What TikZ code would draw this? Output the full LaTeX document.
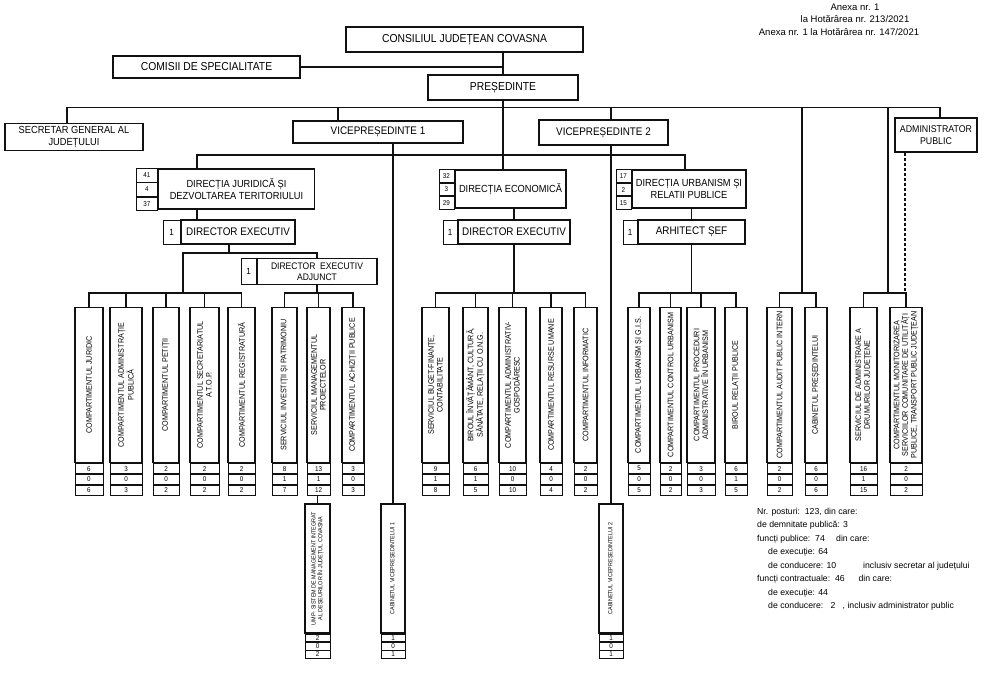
\documentclass[tikz,border=0pt]{standalone}
\usepackage{fontspec}
\setmainfont{Liberation Sans}[FakeStretch=0.9]
\newfontfamily\notefont{Liberation Sans}
\usepackage{tikz}
\usetikzlibrary{positioning,calc}
\definecolor{cInk}{HTML}{111111}
\tikzset{
  unit/.style    = {draw=cInk, line width=1.1pt, align=center, inner sep=1pt,
                    font=\fontsize{11}{12.5}\selectfont},
  topunit/.style = {unit, font=\fontsize{11.5}{13.5}\selectfont},
  dirunit/.style = {unit, line width=1.3pt, font=\fontsize{10.3}{12}\selectfont},
  numcell/.style = {draw=cInk, line width=0.8pt, inner sep=0pt, minimum height=10,
                    font=\fontsize{7}{8}\selectfont},
  dircell/.style = {numcell, minimum height=38/3},
  headcell/.style = {numcell, font=\fontsize{9}{10}\selectfont},
  vunit/.style   = {draw=cInk, line width=1.4pt, inner sep=0pt, minimum height=155},
  vlabel/.style  = {rotate=90, align=center, inner sep=0pt,
                    font=\fontsize{8}{8.6}\selectfont},
  link/.style    = {draw=cInk, line width=1.1pt},
  vplink/.style  = {draw=cInk, line width=2.4pt},
  dashlink/.style = {link, dash pattern=on 3pt off 2pt},
  note/.style    = {anchor=base west, inner sep=0pt,
                    font=\notefont\fontsize{8.7}{10}\selectfont},
  annex/.style   = {inner sep=0pt, font=\notefont\fontsize{9.5}{11}\selectfont},
}

\begin{document}
\begin{tikzpicture}[x=1pt, y=-1pt]
  \useasboundingbox (0,0) rectangle (1000,673);

  % header
  \node[annex] (anx1) at (855,7) {Anexa nr. 1};
  \node[annex] (anx2) at (855,19.5) {la Hotărârea nr. 213/2021};
  \node[annex] (anx3) at (839,32) {Anexa nr. 1 la Hotărârea nr. 147/2021};

  \node[topunit, minimum width=237, minimum height=25] (cj) at (464.5,39.5)
    {CONSILIUL JUDEȚEAN COVASNA};
  \node[topunit, minimum width=187, minimum height=22] (com) at (206.5,67)
    {COMISII DE SPECIALITATE};
  \node[topunit, minimum width=150, minimum height=25] (pres) at (503,87.5)
    {PREȘEDINTE};

  % second level
  \node[unit, font=\fontsize{10.3}{11.5}\selectfont, minimum width=138, minimum height=27]
    (sec) at (74,137) {SECRETAR GENERAL AL\\ JUDEȚULUI};
  \node[unit, minimum width=170, minimum height=22] (vp1) at (378,132)
    {VICEPREȘEDINTE 1};
  \node[unit, line width=2pt, minimum width=129, minimum height=25] (vp2) at (603.5,132.5)
    {VICEPREȘEDINTE 2};
  \node[unit, font=\fontsize{9.8}{11.5}\selectfont, minimum width=82, minimum height=34]
    (adm) at (936,135) {ADMINISTRATOR\\ PUBLIC};

  % directions
  \node[dirunit, minimum width=156, minimum height=40] (dj) at (236.5,189)
    {DIRECȚIA JURIDICĂ ȘI\\ DEZVOLTAREA TERITORIULUI};
  \node[dircell, minimum width=21, minimum height=40/3, anchor=north east] (dj-a) at (dj.north west) {41};
  \node[dircell, minimum width=21, minimum height=40/3, below=0pt of dj-a] (dj-b) {4};
  \node[dircell, minimum width=21, minimum height=40/3, below=0pt of dj-b] (dj-c) {37};

  \node[dirunit, minimum width=111, minimum height=38] (de) at (510.5,189)
    {DIRECȚIA ECONOMICĂ};
  \node[dircell, minimum width=15, anchor=north east] (de-a) at (de.north west) {32};
  \node[dircell, minimum width=15, below=0pt of de-a] (de-b) {3};
  \node[dircell, minimum width=15, below=0pt of de-b] (de-c) {29};

  \node[dirunit, minimum width=114, minimum height=38] (du) at (689,189)
    {DIRECȚIA URBANISM ȘI\\ RELATII PUBLICE};
  \node[dircell, minimum width=15, anchor=north east] (du-a) at (du.north west) {17};
  \node[dircell, minimum width=15, below=0pt of du-a] (du-b) {2};
  \node[dircell, minimum width=15, below=0pt of du-b] (du-c) {15};

  % heads
  \node[unit, minimum width=114, minimum height=24] (de1) at (238,232) {DIRECTOR EXECUTIV};
  \node[headcell, minimum width=17, minimum height=24, anchor=east] (de1-n) at (de1.west) {1};
  \node[unit, font=\fontsize{9.5}{11}\selectfont, minimum width=120, minimum height=26]
    (dea) at (317,271.5) {DIRECTOR\ \ EXECUTIV\\ ADJUNCT};
  \node[headcell, minimum width=15, minimum height=26, anchor=east] (dea-n) at (dea.west) {1};
  \node[unit, minimum width=112, minimum height=24] (de2) at (514,232) {DIRECTOR EXECUTIV};
  \node[headcell, minimum width=14, minimum height=24, anchor=east] (de2-n) at (de2.west) {1};
  \node[unit, minimum width=107, minimum height=24] (ars) at (691.5,232) {ARHITECT ȘEF};
  \node[headcell, minimum width=14, minimum height=24, anchor=east] (ars-n) at (ars.west) {1};

  % offices
  \foreach \nm/\xl/\xr/\txt/\na/\nb/\nc in {
    juridic/75/103/{COMPARTIMENTUL JURIDIC}/6/0/6,
    admpub/110/142/{COMPARTIMENTUL ADMINISTRAȚIE\\ PUBLICĂ}/3/0/3,
    petitii/153/179/{COMPARTIMENTUL PETIȚII}/2/0/2,
    secret/190/219/{COMPARTIMENTUL SECRETARIATUL\\ A.T.O.P.}/2/0/2,
    registr/228/255/{COMPARTIMENTUL REGISTRATURĂ}/2/0/2,
    invest/272/297/{SERVICIUL INVESTIȚII ȘI PATRIMONIU}/8/1/7,
    mgmt/307/330/{SERVICIUL MANAGEMENTUL\\ PROIECTELOR}/13/1/12,
    achiz/342/364/{COMPARTIMENTUL ACHIZIȚII PUBLICE}/3/0/3,
    buget/422/449/{SERVICIUL BUGET-FINANȚE,\\ CONTABILITATE}/9/1/8,
    birou/463/488/{BIROUL ÎNVĂȚĂMÂNT, CULTURĂ,\\ SĂNĂTATE, RELAȚII CU O.N.G.}/6/1/5,
    gospod/499/526/{COMPARTIMENTUL ADMINISTRATIV-\\ GOSPODĂRESC}/10/0/10,
    resurse/540/562/{COMPARTIMENTUL RESURSE UMANE}/4/0/4,
    informatic/574/597/{COMPARTIMENTUL INFORMATIC}/2/0/2,
    urbgis/628/650/{COMPARTIMENTUL URBANISM ȘI G.I.S.}/5/0/5,
    control/660/681/{COMPARTIMENTUL CONTROL URBANISM}/2/0/2,
    proced/687/715/{COMPARTIMENTUL PROCEDURI\\ ADMINISTRATIVE ÎN URBANISM}/3/0/3,
    relatii/725/747/{BIROUL RELAȚII PUBLICE}/6/1/5,
    audit/767/792/{COMPARTIMENTUL AUDIT PUBLIC INTERN}/2/0/2,
    cabpres/805/827/{CABINETUL PREȘEDINTELUI}/6/0/6,
    drumuri/850/877/{SERVICIUL DE ADMINISTRARE A\\ DRUMURILOR JUDEȚENE}/16/1/15,
    monitor/890/922/{COMPARTIMENTUL MONITORIZAREA\\ SERVICIILOR COMUNITARE DE UTILITĂȚI\\ PUBLICE, TRANSPORT PUBLIC JUDEȚEAN}/2/0/2%
  }{
    \node[vunit, minimum width={\xr-\xl}] (\nm) at ({(\xl+\xr)/2},385) {};
    \node[vlabel] (\nm-t) at (\nm.center) {\txt};
    \node[numcell, minimum width={\xr-\xl}, anchor=north] (\nm-a) at (\nm.south) {\na};
    \node[numcell, minimum width={\xr-\xl}, anchor=north] (\nm-b) at (\nm-a.south) {\nb};
    \node[numcell, minimum width={\xr-\xl}, anchor=north] (\nm-c) at (\nm-b.south) {\nc};
  }

  % cabinets and UMP
  \foreach \nm/\xl/\xr/\txt/\na/\nb/\nc in {
    ump/305/330/{UMP- SISTEM DE MANAGEMENT INTEGRAT\\ AL DEȘEURILOR ÎN JUDEȚUL COVASNA}/2/0/2,
    cabvp1/381/405/{CABINETUL VICEPREȘEDINTELUI 1}/1/0/1,
    cabvp2/599/623/{CABINETUL VICEPREȘEDINTELUI 2}/1/0/1%
  }{
    \node[vunit, minimum height=129, minimum width={\xr-\xl}] (\nm) at ({(\xl+\xr)/2},568.5) {};
    \node[vlabel, font=\fontsize{6}{6.8}\selectfont] (\nm-t) at (\nm.center) {\txt};
    \node[numcell, minimum height=7.5, minimum width={\xr-\xl}, anchor=north] (\nm-a) at (\nm.south) {\na};
    \node[numcell, minimum height=7.5, minimum width={\xr-\xl}, anchor=north] (\nm-b) at (\nm-a.south) {\nb};
    \node[numcell, minimum height=7.5, minimum width={\xr-\xl}, anchor=north] (\nm-c) at (\nm-b.south) {\nc};
  }

  % junction points
  \coordinate (bus)  at (0,107.5);
  \coordinate (dbus) at (0,155);
  \coordinate (j1)   at (0,253);
  \coordinate (bar)  at (0,293);
  \coordinate (xsec) at (67,0);
  \coordinate (xvp1) at (338,0);
  \coordinate (xvp2) at (611,0);
  \coordinate (xaud) at (802,0);
  \coordinate (xadm) at (888,0);
  \coordinate (xadp) at (940,0);
  \coordinate (xdsh) at (905,0);
  \coordinate (xdj)  at (197,0);
  \coordinate (xdu)  at (685,0);
  \coordinate (xde1) at (229,0);
  \coordinate (xj1)  at (183,0);

  % links
  \draw[link] (pres.north) -- (pres.north |- cj.south);
  \draw[link] (com.east) -- (com.east -| pres.north);
  \draw[link] (xsec |- sec.north) -- (xsec |- bus) -- (xadp |- bus) -- (xadp |- adm.north);
  \draw[link] (xvp1 |- vp1.north) -- (xvp1 |- bus);
  \draw[link] (xvp2 |- vp2.north) -- (xvp2 |- bus);
  \draw[link] (pres.south) -- (pres.south |- de.north);
  \draw[link] (xdj |- dj.north) -- (xdj |- dbus) -- (xdu |- dbus) -- (xdu |- du.north);
  \draw[link] (xaud |- bus) -- (xaud |- bar);
  \draw[link] (xadm |- bus) -- (xadm |- bar);
  \draw[dashlink] (xdsh |- adm.south) -- (xdsh |- bar);

  \draw[link] (xdj |- dj.south) -- (xdj |- de1.north);
  \draw[link] (xde1 |- de1.south) -- (xde1 |- j1);
  \draw[link] (xj1 |- bar) -- (xj1 |- j1) -- (dea.north |- j1) -- (dea.north);
  \draw[link] (dea.south) -- (dea.south |- bar);
  \draw[link] (de2.north) -- (de2.north |- de.south);
  \draw[link] (de2.south) -- (de2.south |- bar);
  \draw[link] (ars.north) -- (ars.north |- du.south);
  \draw[link] (ars.south) -- (ars.south |- bar);

  \draw[link] (juridic.north) -- (juridic.north |- bar) -- (registr.north |- bar) -- (registr.north);
  \draw[link] (invest.north) -- (invest.north |- bar) -- (achiz.north |- bar) -- (achiz.north);
  \draw[link] (buget.north) -- (buget.north |- bar) -- (informatic.north |- bar) -- (informatic.north);
  \draw[link] (urbgis.north) -- (urbgis.north |- bar) -- (relatii.north |- bar) -- (relatii.north);
  \draw[link] (audit.north) -- (audit.north |- bar) -- (cabpres.north |- bar) -- (cabpres.north);
  \draw[link] (drumuri.north) -- (drumuri.north |- bar) -- (monitor.north |- bar) -- (monitor.north);
  \foreach \nm in {admpub,petitii,secret,mgmt,birou,gospod,resurse,control,proced}
    \draw[link] (\nm.north) -- (\nm.north |- bar);
  \draw[link] (ump.north |- mgmt-c.south) -- (ump.north);

  \draw[vplink] (cabvp1.north |- vp1.south) -- (cabvp1.north);
  \draw[vplink] (cabvp2.north |- vp2.south) -- (cabvp2.north);

  % totals
  \node[note] (n1) at (757,514) {Nr. posturi:\ \ 123, din care:};
  \node[note] (n2) at (757,527.5) {de demnitate publică: 3};
  \node[note] (n3) at (757,541) {funcți publice:\ \ 74\hspace{1.3em}din care:};
  \node[note] (n4) at (768,554.5) {de execuție: 64};
  \node[note] (n5) at (768,568) {de conducere: 10\hspace{3.1em}inclusiv secretar al județului};
  \node[note] (n6) at (757,581.5) {funcți contractuale:\ \ 46\hspace{1.6em}din care:};
  \node[note] (n7) at (768,595) {de execuție: 44};
  \node[note] (n8) at (768,608.5) {de conducere:\ \ \ 2\ \ \ , inclusiv administrator public};
\end{tikzpicture}
\end{document}
